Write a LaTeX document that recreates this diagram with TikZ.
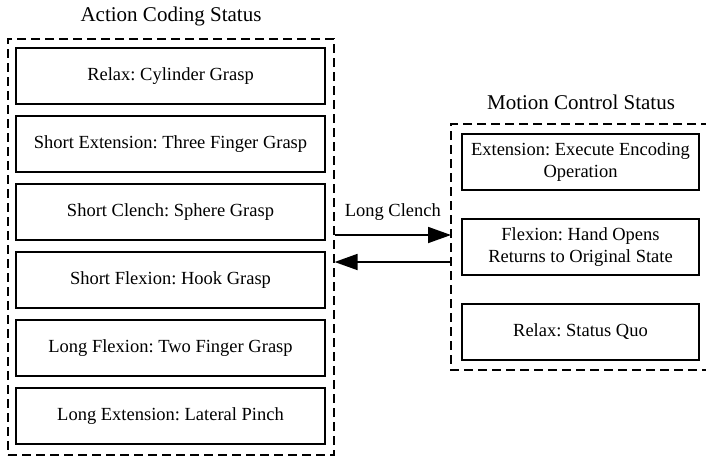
\documentclass[tikz,border=0pt]{standalone}
\usepackage{fontspec}
\setmainfont{Liberation Serif}
\usepackage{tikz}
\usetikzlibrary{arrows.meta,positioning}
\frenchspacing

\begin{document}
\begin{tikzpicture}[x=1pt,y=-1pt,
    codebox/.style={draw, line width=1.2pt, minimum width=309pt, minimum height=56pt,
      font=\fontsize{18.5}{22}\selectfont},
    ctrlbox/.style={draw, line width=1.2pt, minimum width=237pt, minimum height=56pt,
      align=center, font=\fontsize{18.5}{22}\selectfont},
    group/.style={draw, line width=1.2pt, dash pattern=on 9pt off 5pt},
    title/.style={font=\fontsize{21}{25}\selectfont},
    flow/.style={line width=1.8pt, -{Triangle[length=23pt,width=16pt]}}]
  \useasboundingbox (0,0) rectangle (706,456);

  % action coding side
  \node[title] (codetitle) at (171,16) {Action Coding Status};
  \node[group, minimum width=326pt, minimum height=416pt] (coding) at (171,247) {};
  \node[codebox] (c1) at (170.5,76) {Relax: Cylinder Grasp};
  \node[codebox] (c2) at (170.5,144) {Short Extension: Three Finger Grasp};
  \node[codebox] (c3) at (170.5,212) {Short Clench: Sphere Grasp};
  \node[codebox] (c4) at (170.5,280) {Short Flexion: Hook Grasp};
  \node[codebox] (c5) at (170.5,348) {Long Flexion: Two Finger Grasp};
  \node[codebox] (c6) at (170.5,416) {Long Extension: Lateral Pinch};

  % motion control side
  \node[title] (ctrltitle) at (581,102) {Motion Control Status};
  \draw[group] (710,124) -| (451,370) -- (710,370);
  \node[ctrlbox] (m1) at (580.5,162) {Extension: Execute Encoding\\Operation};
  \node[ctrlbox] (m2) at (580.5,247) {Flexion: Hand Opens\\Returns to Original State};
  \node[ctrlbox] (m3) at (580.5,332) {Relax: Status Quo};

  % switching
  \coordinate (inA) at (451,235);
  \coordinate (outB) at (451,262);
  \draw[flow] (coding.east |- inA) -- node[above=10pt, font=\fontsize{18.5}{22}\selectfont] (clench) {Long Clench} (inA);
  \draw[flow] (outB) -- (coding.east |- outB);
\end{tikzpicture}
\end{document}
